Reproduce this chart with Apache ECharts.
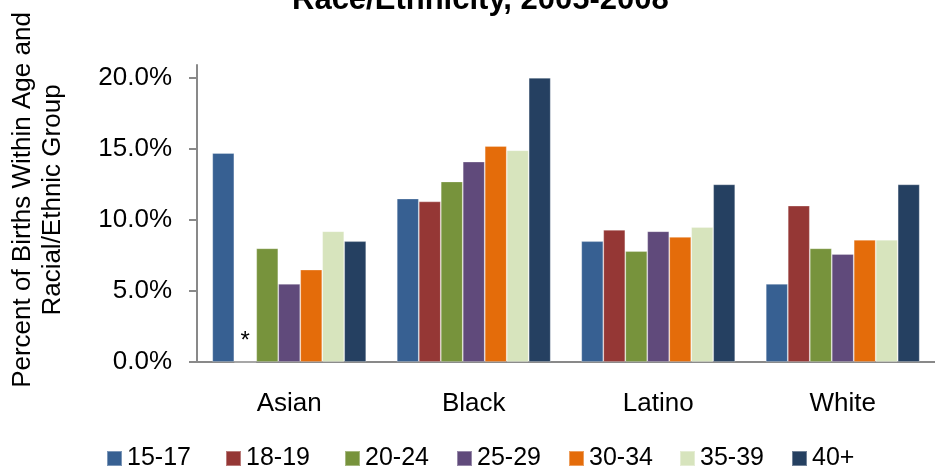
<!DOCTYPE html>
<html>
<head>
<meta charset="utf-8">
<script src="https://cdn.jsdelivr.net/npm/echarts@6/dist/echarts.min.js"></script>
<style>
  html, body { margin: 0; padding: 0; background: #fff; }
  #main { width: 935px; height: 470px; }
</style>
</head>
<body>
<div id="main"></div>
<script>
// 数据
var categories = ['Asian', 'Black', 'Latino', 'White'];
var ageGroups = ['15-17', '18-19', '20-24', '25-29', '30-34', '35-39', '40+'];
var age15_17 = [14.7, 11.5, 8.5, 5.5];
var age18_19 = [null, 11.3, 9.3, 11.0];   // null = 数据不足 (*)
var age20_24 = [8.0, 12.7, 7.8, 8.0];
var age25_29 = [5.5, 14.1, 9.2, 7.6];
var age30_34 = [6.5, 15.2, 8.8, 8.6];
var age35_39 = [9.2, 14.9, 9.5, 8.6];
var age40plus = [8.5, 20.0, 12.5, 12.5];
var yTicks = [0, 5, 10, 15, 20];

var allValues = [age15_17, age18_19, age20_24, age25_29, age30_34, age35_39, age40plus];
var colors = ['#376092', '#953735', '#77933C', '#604A7B', '#E46C0A', '#D7E4BD', '#254061'];
var legendLeft = [101, 220, 339, 451, 563, 674, 786];  // 图例位置
var fontFam = '"Liberation Sans", Arial, sans-serif';

var chart = echarts.init(document.getElementById('main'));

var series = [];
for (let i = 0; i < ageGroups.length; i++) {
  let data = allValues[i].map(function (v) {
    if (v === null) {
      // 缺失值用星号标注
      return {
        value: 0,
        label: {
          show: true,
          position: 'top',
          distance: 8,
          formatter: '*',
          fontSize: 24,
          color: '#000',
          fontFamily: fontFam
        }
      };
    }
    return v;
  });
  series.push({
    name: ageGroups[i],
    type: 'bar',
    barGap: '0%',
    barCategoryGap: '16.6%',
    itemStyle: {
      color: colors[i],
      borderColor: 'rgba(255,255,255,0.35)',
      borderWidth: 0.8
    },
    data: data
  });
}

var legends = ageGroups.map(function (g, i) {
  return {
    left: legendLeft[i],
    top: 441,
    itemWidth: 15,
    itemHeight: 15,
    icon: 'rect',
    textStyle: {
      fontFamily: fontFam,
      fontSize: 25,
      color: '#000'
    },
    data: [g]
  };
});

var option = {
  animation: false,
  backgroundColor: '#fff',
  color: colors,
  title: {
    text: 'Race/Ethnicity, 2005-2008',
    left: 287,
    top: -20,
    textStyle: {
      fontFamily: fontFam,
      fontSize: 31,
      fontWeight: 'bold',
      color: '#000'
    }
  },
  legend: legends,
  grid: {
    left: 197,
    top: 65,
    width: 748,
    bottom: 108,
    containLabel: false
  },
  xAxis: {
    type: 'category',
    data: categories,
    axisLine: { lineStyle: { color: '#898989', width: 2 } },
    axisTick: { show: false },
    axisLabel: {
      margin: 29,
      fontFamily: fontFam,
      fontSize: 26,
      color: '#000'
    }
  },
  yAxis: {
    type: 'value',
    min: 0,
    max: 20.9,
    splitLine: { show: false },
    axisLine: { show: true, lineStyle: { color: '#898989', width: 2 } },
    axisTick: {
      show: true,
      length: 8,
      customValues: yTicks,
      lineStyle: { color: '#898989', width: 2 }
    },
    axisLabel: {
      margin: 25,
      customValues: yTicks,
      fontFamily: fontFam,
      fontSize: 26,
      color: '#000',
      formatter: function (v) { return v.toFixed(1) + '%'; }
    }
  },
  graphic: [
    {
      type: 'text',
      x: 38,
      y: 200,
      rotation: Math.PI / 2,
      style: {
        text: 'Percent of Births Within Age and\nRacial/Ethnic Group',
        align: 'center',
        verticalAlign: 'middle',
        fontFamily: fontFam,
        fontSize: 26,
        lineHeight: 30,
        fill: '#000'
      }
    }
  ],
  series: series
};

chart.setOption(option);
</script>
</body>
</html>
